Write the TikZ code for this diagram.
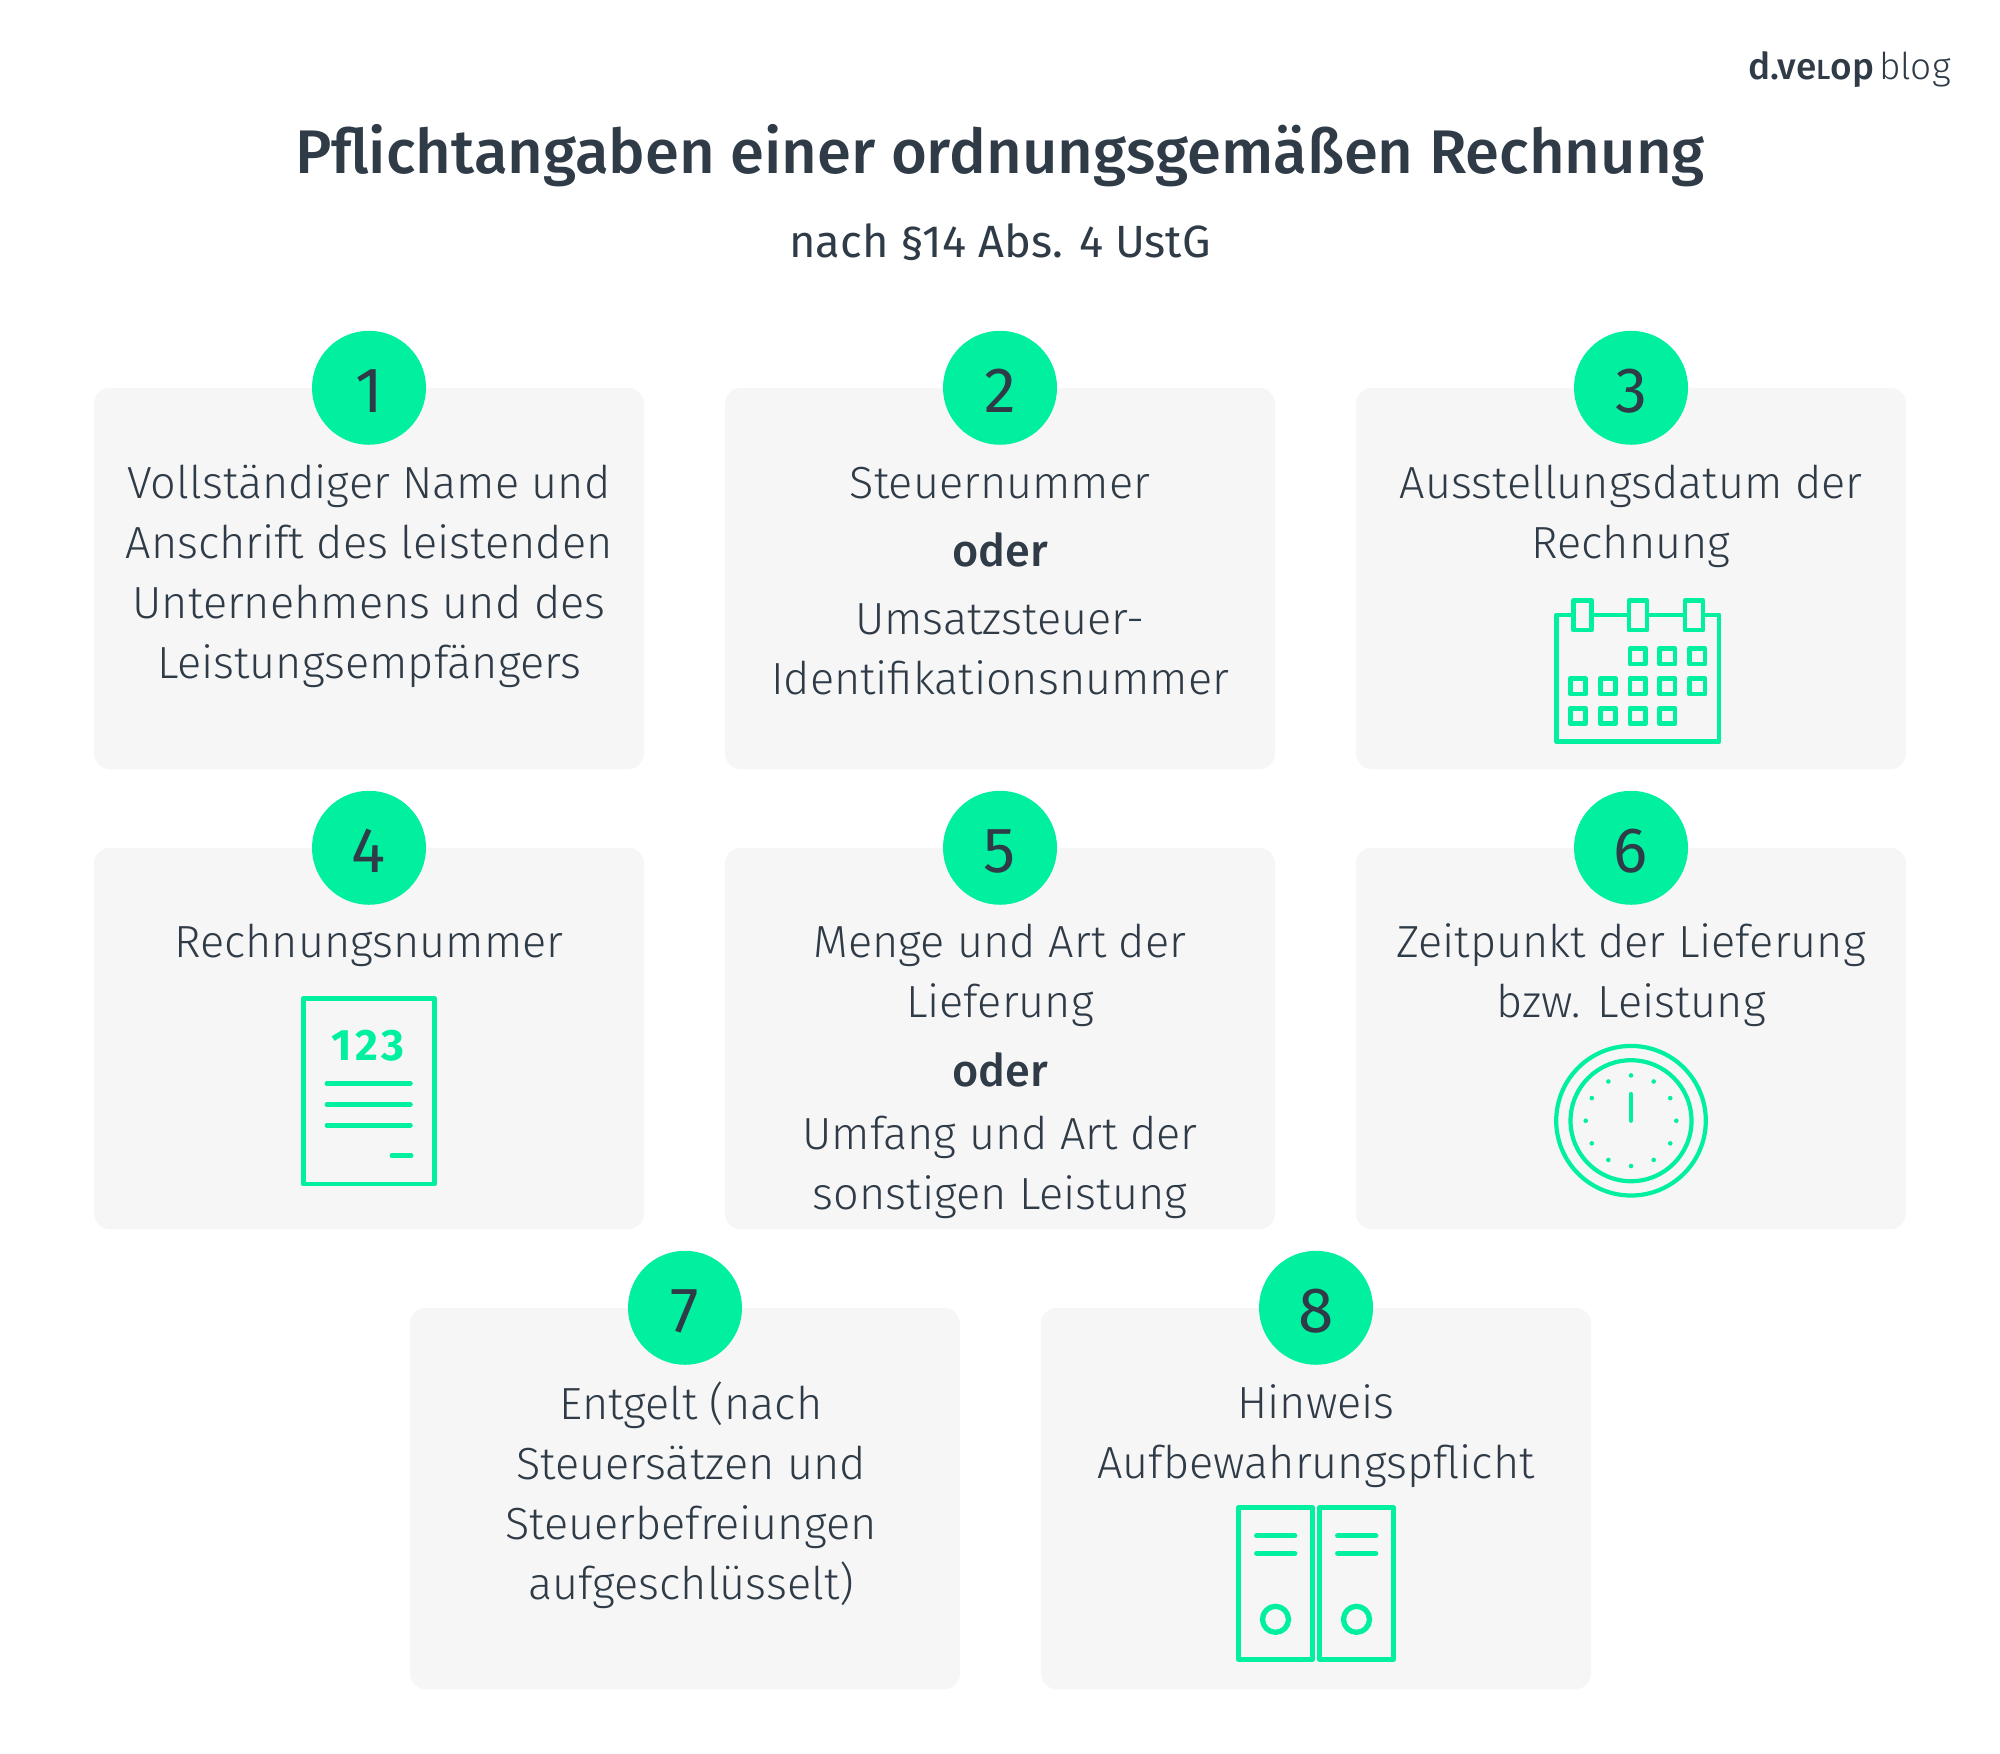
\documentclass[tikz,border=0pt]{standalone}
\usepackage{fontspec}
\setmainfont{Fira Sans Light}[BoldFont=Fira Sans Medium]
\newfontfamily\regfont{Fira Sans}
\usetikzlibrary{positioning}
\definecolor{dvgreen}{HTML}{00F0A0}
\definecolor{dvdark}{HTML}{2F3B47}
\definecolor{dvbox}{HTML}{F6F6F6}
\newcommand{\oder}{\textbf{oder}}
\tikzstyle{infobox} = [fill=dvbox, rounded corners=8pt, minimum width=275pt, minimum height=190.75pt, inner sep=0pt, outer sep=0pt]
\tikzstyle{numcircle} = [circle, fill=dvgreen, text=dvdark, minimum size=57pt, inner sep=0pt, text height=24.6pt, text depth=0pt, font=\regfont\fontsize{32}{32}\selectfont]
\tikzstyle{boxtext} = [anchor=north, align=center, text=dvdark, inner sep=0pt, font=\fontsize{22.5}{30}\selectfont]
\tikzstyle{icon} = [draw=dvgreen, line width=2.45pt, line cap=round, line join=round]

\begin{document}
\begin{tikzpicture}[x=0.5pt, y=-0.5pt]
	\useasboundingbox (0,0) rectangle (2000,1753);
	\node [text=dvdark, font=\bfseries\fontsize{30.8}{36}\selectfont] (title) at (1000,156) {Pflichtangaben einer ordnungsgemäßen Rechnung};
	\node [text=dvdark, font=\regfont\fontsize{22.6}{28}\selectfont] (subtitle) at (1000,242) {nach §14 Abs. 4 UstG};
	\node [anchor=east, text=dvdark, inner sep=0pt, font=\fontsize{18.5}{24}\selectfont] (logo) at (1951,70) {\textbf{d.ve\scalebox{0.75}{L}op}\hspace{2.5pt}blog};
	% boxes
	\node [infobox] (box1) at (369,578.5) {};
	\node [infobox, right=40.5pt of box1] (box2) {};
	\node [infobox, right=40.5pt of box2] (box3) {};
	\node [infobox, below=39.25pt of box1] (box4) {};
	\node [infobox, below=39.25pt of box2] (box5) {};
	\node [infobox, below=39.25pt of box3] (box6) {};
	\node [infobox] (box7) at (685,1498.5) {};
	\node [infobox, right=40.5pt of box7] (box8) {};
	\foreach \n in {1,...,8} {
		\node [numcircle] (num\n) at (box\n.north) {\n};
	}
	% texts
	\node [boxtext, below=34pt of box1.north] (text1) {\strut Vollständiger Name und\\Anschrift des leistenden\\Unternehmens und des\\Leistungsempfängers};
	\node [boxtext, below=34pt of box2.north] (text2) {\strut Steuernummer\\[4pt]\oder\\[4pt]Umsatzsteuer-\\Identifikationsnummer};
	\node [boxtext, below=34pt of box3.north] (text3) {\strut Ausstellungsdatum der\\Rechnung};
	\node [boxtext, below=33.5pt of box4.north] (text4) {\strut Rechnungsnummer};
	\node [boxtext, below=33.5pt of box5.north] (text5) {\strut Menge und Art der\\Lieferung\\[4.5pt]\oder\\[1.5pt]Umfang und Art der\\sonstigen Leistung};
	\node [boxtext, below=33.5pt of box6.north] (text6) {\strut Zeitpunkt der Lieferung\\bzw. Leistung};
	\node [boxtext, below=34.8pt of box7.north, xshift=3pt] (text7) {\strut Entgelt (nach\\Steuersätzen und\\Steuerbefreiungen\\aufgeschlüsselt)};
	\node [boxtext, below=34pt of box8.north] (text8) {\strut Hinweis\\Aufbewahrungspflicht};
	% calendar
	\draw [icon] (1556.7,615) rectangle (1719,741.7);
	\foreach \x in {1573.5,1629,1685} {
		\draw [icon, fill=dvbox] (\x,600.7) rectangle ++(18,29.3);
	}
	\foreach \x/\y in {1637.7/656.3,1667.3/656.3,1697.3/656.3,1578/686.3,1607.8/686.3,1637.7/686.3,1667.3/686.3,1697.3/686.3,1578/716,1607.8/716,1637.7/716,1667.3/716} {
		\draw [icon] (\x-7.7,\y-7.7) rectangle ++(15.4,15.4);
	}
	% invoice
	\draw [icon] (303.3,998.7) rectangle (434.7,1184);
	\node [text=dvgreen, inner sep=0pt, font=\regfont\bfseries\fontsize{22}{24}\selectfont] (invoicenum) at (368,1046) {1\kern1.6pt2\kern1.6pt3};
	\foreach \y in {1083.7,1104.7,1125.3} {
		\draw [icon] (327,\y) -- (410.3,\y);
	}
	\draw [icon] (392,1155.7) -- (411,1155.7);
	% clock
	\draw [icon, line width=2.1pt] (1631,1120.7) circle (74.8);
	\draw [icon, line width=2.1pt] (1631,1120.7) circle (60.5);
	\draw [icon, line width=2.1pt] (1631,1094) -- (1631,1120.7);
	\foreach \a in {0,30,...,330} {
		\fill [dvgreen] (1631,1120.7) ++(\a:45.3) circle (2.3);
	}
	% binders
	\foreach \x in {0,81} {
		\draw [icon, line width=2.65pt] (1238.7+\x,1507.7) rectangle (1312.3+\x,1659.3);
		\draw [icon, line width=2.65pt] (1256.7+\x,1535.7) -- (1294.7+\x,1535.7);
		\draw [icon, line width=2.65pt] (1256.7+\x,1553.3) -- (1294.7+\x,1553.3);
		\draw [icon, line width=2.65pt] (1275.5+\x,1619.3) circle (13);
	}
\end{tikzpicture}
\end{document}
